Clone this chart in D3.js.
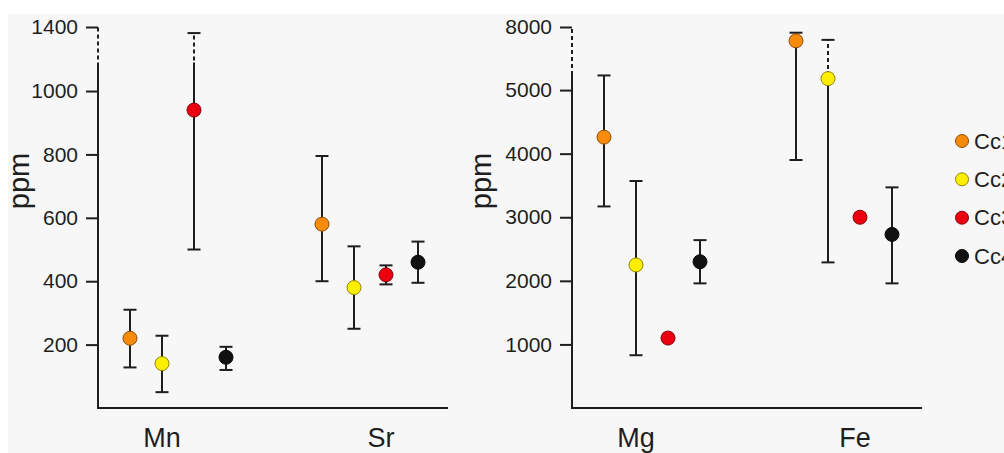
<!DOCTYPE html>
<html>
<head>
<meta charset="utf-8">
<script src="https://cdn.jsdelivr.net/npm/d3@7"></script>
<style>
  html, body { margin: 0; padding: 0; background: #ffffff; }
  svg { display: block; }
  text { font-family: "Liberation Sans", Arial, sans-serif; fill: #1e1e1e; }
</style>
</head>
<body>
<svg id="chart" width="1004" height="453"></svg>
<script>
// ---------- DATA ----------
const series = ["Cc1", "Cc2", "Cc3", "Cc4"];
const seriesColors = ["#f88a0c", "#ffee00", "#ec0010", "#111111"];

const leftCategories = ["Mn", "Sr"];
const leftTicks = [200, 400, 600, 800, 1000, 1400];
const mnMean = [220, 140, 940, 160];
const mnLow  = [128, 50, 500, 120];
const mnHigh = [310, 228, 1347, 193];
const srMean = [580, 380, 420, 460];
const srLow  = [400, 250, 390, 395];
const srHigh = [795, 510, 450, 525];

const rightCategories = ["Mg", "Fe"];
const rightTicks = [1000, 2000, 3000, 4000, 5000, 8000];
const mgMean = [4260, 2250, 1100, 2300];
const mgLow  = [3170, 830, null, 1960];
const mgHigh = [5230, 3570, null, 2640];
const feMean = [7150, 5180, 3000, 2730];
const feLow  = [3900, 2290, null, 1960];
const feHigh = [7650, 7210, null, 3470];

// ---------- DRAW ----------
const svg = d3.select("#chart");
svg.append("rect").attr("x", 8).attr("y", 14).attr("width", 996).attr("height", 439).attr("fill", "#f7f7f7");

const yBottom = 408, yTop = 27;
const ink = "#1e1e1e";

function panel(opts) {
  const g = svg.append("g").attr("transform", `translate(${opts.x},0)`);
  const y = d3.scaleLinear()
    .domain([0, opts.brk, opts.top])
    .range([yBottom, opts.yBrk, yTop]);

  const groupX = d3.scalePoint().domain(opts.categories).range([80, 272]);
  const labelX = d3.scalePoint().domain(opts.categories).range([64, 283]);
  const offX = d3.scalePoint().domain(series).range([-48, 48]);

  // y axis ticks
  const axis = d3.axisLeft(y).tickValues(opts.ticks).tickSize(12).tickPadding(8)
    .tickFormat(d3.format("d"));
  const ag = g.append("g").call(axis);
  ag.select(".domain").remove();
  ag.selectAll(".tick line").attr("stroke", ink).attr("stroke-width", 2);
  ag.selectAll(".tick text").attr("font-size", 21).attr("fill", ink)
    .attr("font-family", "Liberation Sans, Arial, sans-serif");

  // axis line: solid up to break, dotted above
  g.append("line").attr("x1", 0).attr("x2", 0)
    .attr("y1", yBottom + 1).attr("y2", y(opts.brk))
    .attr("stroke", ink).attr("stroke-width", 2);
  g.append("line").attr("x1", 0).attr("x2", 0)
    .attr("y1", y(opts.brk) - 3).attr("y2", y(opts.top))
    .attr("stroke", ink).attr("stroke-width", 2).attr("stroke-dasharray", "4,3");

  // x axis line
  g.append("line").attr("x1", -1).attr("x2", 350)
    .attr("y1", yBottom).attr("y2", yBottom)
    .attr("stroke", ink).attr("stroke-width", 2);

  // category labels
  g.selectAll(".cat").data(opts.categories).enter().append("text")
    .attr("x", d => labelX(d)).attr("y", 447)
    .attr("text-anchor", "middle").attr("font-size", 27).text(d => d);

  // y label
  g.append("text").attr("transform", `translate(${opts.ylabX},181) rotate(-90)`)
    .attr("text-anchor", "middle").attr("font-size", 29).text("ppm");

  // points
  opts.data.forEach((grp, gi) => {
    const cat = opts.categories[gi];
    series.forEach((s, si) => {
      const cx = groupX(cat) + offX(s);
      const m = grp.mean[si], lo = grp.low[si], hi = grp.high[si];
      if (lo != null && hi != null) {
        if (m < opts.brk && hi > opts.brk) {
          g.append("line").attr("x1", cx).attr("x2", cx)
            .attr("y1", y(lo)).attr("y2", y(opts.brk))
            .attr("stroke", ink).attr("stroke-width", 2);
          g.append("line").attr("x1", cx).attr("x2", cx)
            .attr("y1", y(opts.brk) - 2).attr("y2", y(hi))
            .attr("stroke", ink).attr("stroke-width", 2).attr("stroke-dasharray", "4,3");
        } else {
          g.append("line").attr("x1", cx).attr("x2", cx)
            .attr("y1", y(lo)).attr("y2", y(hi))
            .attr("stroke", ink).attr("stroke-width", 2);
        }
        [lo, hi].forEach(v => {
          g.append("line").attr("x1", cx - 6.5).attr("x2", cx + 6.5)
            .attr("y1", y(v)).attr("y2", y(v))
            .attr("stroke", ink).attr("stroke-width", 2);
        });
      }
      g.append("circle").attr("cx", cx).attr("cy", y(m)).attr("r", 7)
        .attr("fill", seriesColors[si])
        .attr("stroke", d3.color(seriesColors[si]).darker(1.6).formatHex())
        .attr("stroke-width", 1);
    });
  });
}

panel({
  x: 98, categories: leftCategories, ticks: leftTicks,
  brk: 1090, yBrk: 62.5, top: 1400, ylabX: 29 - 98,
  data: [
    { mean: mnMean, low: mnLow, high: mnHigh },
    { mean: srMean, low: srLow, high: srHigh }
  ]
});

panel({
  x: 572, categories: rightCategories, ticks: rightTicks,
  brk: 5300, yBrk: 71, top: 8000, ylabX: 491 - 572,
  data: [
    { mean: mgMean, low: mgLow, high: mgHigh },
    { mean: feMean, low: feLow, high: feHigh }
  ]
});

// legend
const legendY = d3.scalePoint().domain(series).range([141, 256]);
const lg = svg.append("g");
series.forEach((s, i) => {
  lg.append("circle").attr("cx", 962).attr("cy", legendY(s)).attr("r", 6.5)
    .attr("fill", seriesColors[i])
    .attr("stroke", d3.color(seriesColors[i]).darker(1.6).formatHex()).attr("stroke-width", 1);
  lg.append("text").attr("x", 974).attr("y", legendY(s) + 7.5)
    .attr("font-size", 22).text(s);
});
</script>
</body>
</html>
